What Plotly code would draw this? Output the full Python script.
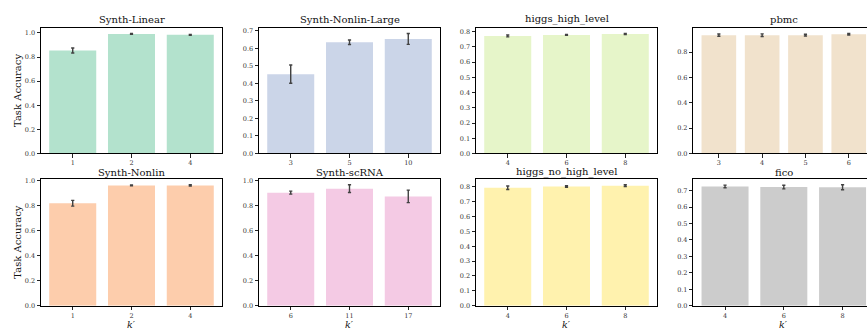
import plotly.graph_objects as go

# ---- data ----
titles = ["Synth-Linear", "Synth-Nonlin-Large", "higgs_high_level", "pbmc",
          "Synth-Nonlin", "Synth-scRNA", "higgs_no_high_level", "fico"]
k_synth_linear = ["1", "2", "4"]
acc_synth_linear = [0.854, 0.992, 0.984]
err_synth_linear = [0.021, 0.003, 0.003]

k_nonlin_large = ["3", "5", "10"]
acc_nonlin_large = [0.453, 0.635, 0.654]
err_nonlin_large = [0.052, 0.013, 0.031]

k_higgs_high = ["4", "6", "8"]
acc_higgs_high = [0.772, 0.779, 0.785]
err_higgs_high = [0.006, 0.003, 0.003]

k_pbmc = ["3", "4", "5", "6"]
acc_pbmc = [0.933, 0.933, 0.933, 0.940]
err_pbmc = [0.009, 0.010, 0.007, 0.006]

k_synth_nonlin = ["1", "2", "4"]
acc_synth_nonlin = [0.821, 0.964, 0.964]
err_synth_nonlin = [0.023, 0.004, 0.005]

k_scrna = ["6", "11", "17"]
acc_scrna = [0.903, 0.935, 0.873]
err_scrna = [0.012, 0.031, 0.050]

k_higgs_no = ["4", "6", "8"]
acc_higgs_no = [0.794, 0.802, 0.808]
err_higgs_no = [0.012, 0.005, 0.006]

k_fico = ["4", "6", "8"]
acc_fico = [0.726, 0.722, 0.721]
err_fico = [0.008, 0.011, 0.015]

colors = ["#b3e2cd", "#cbd5e8", "#e6f5c9", "#f1e2cc",
          "#fdcdac", "#f4cae4", "#fff2ae", "#cccccc"]
dticks = [0.2, 0.1, 0.1, 0.2, 0.2, 0.2, 0.1, 0.1]

panels = [
    (k_synth_linear, acc_synth_linear, err_synth_linear),
    (k_nonlin_large, acc_nonlin_large, err_nonlin_large),
    (k_higgs_high, acc_higgs_high, err_higgs_high),
    (k_pbmc, acc_pbmc, err_pbmc),
    (k_synth_nonlin, acc_synth_nonlin, err_synth_nonlin),
    (k_scrna, acc_scrna, err_scrna),
    (k_higgs_no, acc_higgs_no, err_higgs_no),
    (k_fico, acc_fico, err_fico),
]

# ---- layout geometry (pixels) ----
W, H = 867, 330
col_left = [41, 259, 476, 693.3]
panel_w = 181
row_top = [26, 180]
row_bot = [154.3, 309.3]
title_gap = [8.5, 6.8]

FONT = "'DejaVu Serif', serif"
fig = go.Figure()
layout = dict(
    width=W, height=H, margin=dict(l=0, r=0, t=0, b=0),
    paper_bgcolor="white", plot_bgcolor="white",
    showlegend=False, bargap=0.2,
    font=dict(family=FONT, color="#222"),
)
annotations = []

for i, (ks, acc, err) in enumerate(panels):
    r, c = divmod(i, 4)
    ax = "" if i == 0 else str(i + 1)
    n = len(ks)
    margin = 0.05 * (n - 1 + 0.8)
    xlo, xhi = -0.4 - margin, n - 1 + 0.4 + margin
    x0 = col_left[c]
    x1 = x0 + panel_w
    upp = (xhi - xlo) / panel_w
    if x1 > W:
        xhi = xlo + (W - x0) * upp
        x1 = W
    ymax = 1.05 * max(a + e for a, e in zip(acc, err))

    fig.add_trace(go.Bar(
        x=ks, y=acc, marker=dict(color=colors[i], line=dict(width=0)),
        error_y=dict(type="data", array=err, visible=True,
                     color="#424242", thickness=1.4, width=1.6),
        xaxis="x" + ax, yaxis="y" + ax,
    ))
    layout["xaxis" + ax] = dict(
        domain=[x0 / W, x1 / W], anchor="y" + ax, type="category",
        range=[xlo, xhi], showgrid=False, zeroline=False,
        showline=True, linecolor="black", linewidth=1, mirror=True,
        ticks="outside", ticklen=3.5, tickwidth=0.8, tickcolor="#222",
        ticklabelstandoff=-1 if r == 0 else 0,
        tickfont=dict(size=6.5, family=FONT, color="#333"),
        fixedrange=True,
    )
    layout["yaxis" + ax] = dict(
        domain=[1 - row_bot[r] / H, 1 - row_top[r] / H], anchor="x" + ax,
        range=[0, ymax], dtick=dticks[i], tickformat=".1f",
        showgrid=False, zeroline=False,
        showline=True, linecolor="black", linewidth=1, mirror=(c != 3),
        ticks="outside", ticklen=3.5, tickwidth=0.8, tickcolor="#222",
        tickfont=dict(size=6.5, family=FONT, color="#333"),
        fixedrange=True,
    )
    # subplot title, centred on the full (uncropped) panel
    annotations.append(dict(
        text=titles[i], x=(col_left[c] + panel_w / 2) / W, xref="paper",
        y=1 - (row_top[r] - title_gap[r]) / H, yref="paper", yanchor="middle",
        xanchor="center", showarrow=False, borderpad=0,
        font=dict(size=10, family=FONT, color="#111"),
    ))
    if r == 1:
        annotations.append(dict(
            text="<i>k′</i>", x=(col_left[c] + panel_w / 2) / W, xref="paper",
            y=1 - 328 / H, yref="paper", yanchor="middle", xanchor="center",
            showarrow=False, borderpad=0,
            font=dict(size=9.5, family=FONT, color="#111"),
        ))
    if c == 0:
        annotations.append(dict(
            text="Task Accuracy", textangle=-90, x=17.5 / W, xref="paper",
            y=1 - (row_top[r] + row_bot[r]) / 2 / H, yref="paper",
            xanchor="center", yanchor="middle", showarrow=False,
            font=dict(size=10, family=FONT, color="#111"),
        ))

layout["annotations"] = annotations
fig.update_layout(**layout)
fig.write_html("out.html")
